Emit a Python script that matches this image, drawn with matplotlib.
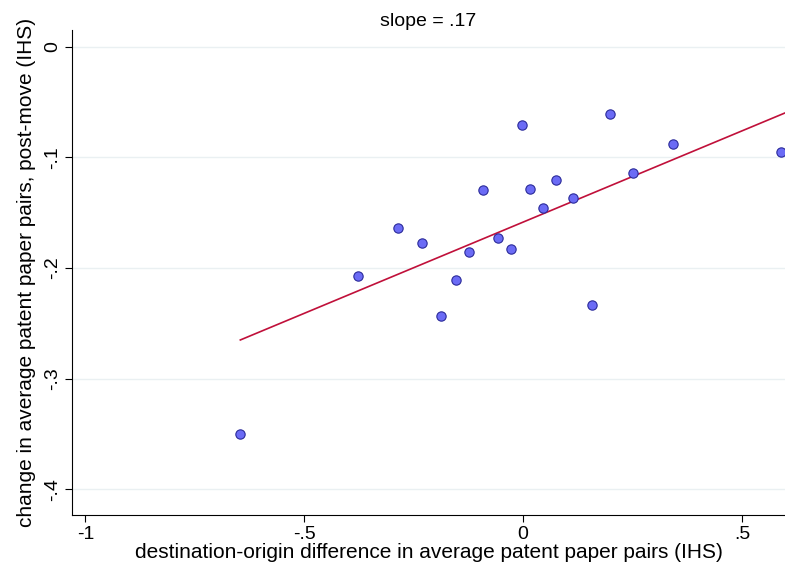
import numpy as np
import matplotlib
matplotlib.use("Agg")
import matplotlib.pyplot as plt

# binned scatter values
bin_x = [-0.646, -0.377, -0.285, -0.231, -0.187, -0.153, -0.123, -0.091, -0.057, -0.027,
         -0.002, 0.016, 0.046, 0.075, 0.114, 0.158, 0.199, 0.251, 0.342, 0.589]
bin_y = [-0.350, -0.207, -0.164, -0.177, -0.243, -0.211, -0.186, -0.130, -0.173, -0.183,
         -0.071, -0.129, -0.146, -0.121, -0.137, -0.233, -0.061, -0.114, -0.088, -0.095]
fit_x = [-0.646, 0.598]
fit_y = [-0.265, -0.060]
xticks = [-1, -0.5, 0, 0.5]
xlabels = ["-1", "-.5", "0", ".5"]
yticks = [0, -0.1, -0.2, -0.3, -0.4]
ylabels = ["0", "-.1", "-.2", "-.3", "-.4"]

plt.rcParams['font.family'] = ['Liberation Sans', 'DejaVu Sans']
fig, ax = plt.subplots(figsize=(7.85, 5.64), dpi=100)
fig.subplots_adjust(left=0.092, right=1.0, top=0.947, bottom=0.087)

ax.grid(axis='y', color='#eaf0f2', lw=1)
ax.set_axisbelow(True)
ax.scatter(bin_x, bin_y, s=45, color='#6b6bf5', edgecolor='#2a2a9a', lw=0.8, zorder=3)
ax.plot(fit_x, fit_y, color='#c0103a', lw=1.2, zorder=2)

ax.set_xlim(-1.03, 0.598)
ax.set_ylim(-0.423, 0.015)
ax.set_xticks(xticks)
ax.set_xticklabels(xlabels, fontsize=14)
ax.set_yticks(yticks)
ax.set_yticklabels(ylabels, fontsize=14, rotation=90, va='center')
ax.tick_params(length=5, pad=3)
ax.spines['top'].set_visible(False)
ax.spines['right'].set_visible(False)
ax.set_xlabel("destination-origin difference in average patent paper pairs (IHS)", fontsize=15, labelpad=0)
ax.set_ylabel("change in average patent paper pairs, post-move (IHS)", fontsize=15, labelpad=6)
ax.set_title("slope = .17", fontsize=14, pad=3)

fig.savefig("out.png")
